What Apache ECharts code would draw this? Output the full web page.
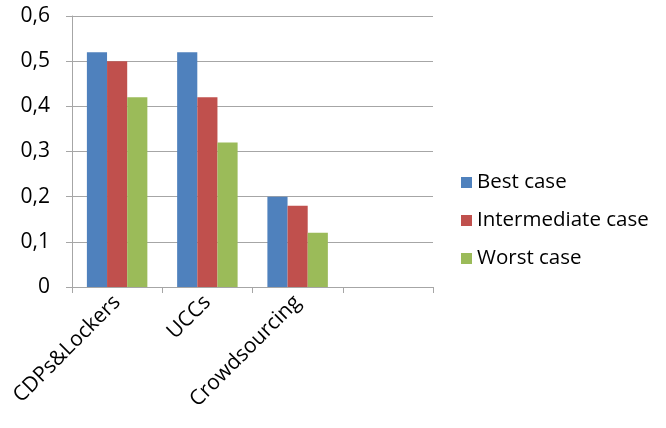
<!DOCTYPE html>
<html>
<head>
<meta charset="utf-8">
<script src="https://cdn.jsdelivr.net/npm/echarts@6/dist/echarts.min.js"></script>
<style>html,body{margin:0;padding:0;background:#fff}#c{width:666px;height:428px}</style>
</head>
<body>
<div id="c"></div>
<script>
var categories = ['CDPs&Lockers', 'UCCs', 'Crowdsourcing', ''];
var bestCase = [0.52, 0.52, 0.20, null];
var intermediateCase = [0.50, 0.42, 0.18, null];
var worstCase = [0.42, 0.32, 0.12, null];
var seriesNames = ['Best case', 'Intermediate case', 'Worst case'];

var chart = echarts.init(document.getElementById('c'));
var font = '"Open Sans", "Noto Sans", sans-serif';
chart.setOption({
  animation: false,
  color: ['#4F81BD', '#C0504D', '#9BBB59'],
  grid: { left: 72, right: 233, top: 16, bottom: 141 },
  legend: {
    orient: 'vertical', left: 456, top: 167,
    itemWidth: 11, itemHeight: 11, itemGap: 17,
    icon: 'rect',
    textStyle: { fontFamily: font, fontSize: 20.5, color: '#000' },
    data: seriesNames
  },
  xAxis: {
    type: 'category', data: categories,
    axisLine: { lineStyle: { color: '#a6a6a6' } },
    axisTick: { show: true, length: 6, lineStyle: { color: '#a6a6a6' } },
    axisLabel: { rotate: 45, interval: 0, fontFamily: font, fontSize: 21, color: '#000', margin: 12 }
  },
  yAxis: {
    type: 'value', min: 0, max: 0.6, interval: 0.1,
    axisLine: { show: true, lineStyle: { color: '#a6a6a6' } },
    axisTick: { show: true, length: 6, lineStyle: { color: '#a6a6a6' } },
    splitLine: { lineStyle: { color: '#a6a6a6' } },
    axisLabel: {
      fontFamily: font, fontSize: 21, color: '#000', margin: 22,
      formatter: function (v) { return (Math.round(v * 10) / 10).toString().replace('.', ','); }
    }
  },
  series: [
    { name: seriesNames[0], type: 'bar', data: bestCase, barGap: '0%', barCategoryGap: '33%' },
    { name: seriesNames[1], type: 'bar', data: intermediateCase, barGap: '0%', barCategoryGap: '33%' },
    { name: seriesNames[2], type: 'bar', data: worstCase, barGap: '0%', barCategoryGap: '33%' }
  ]
});
</script>
</body>
</html>
